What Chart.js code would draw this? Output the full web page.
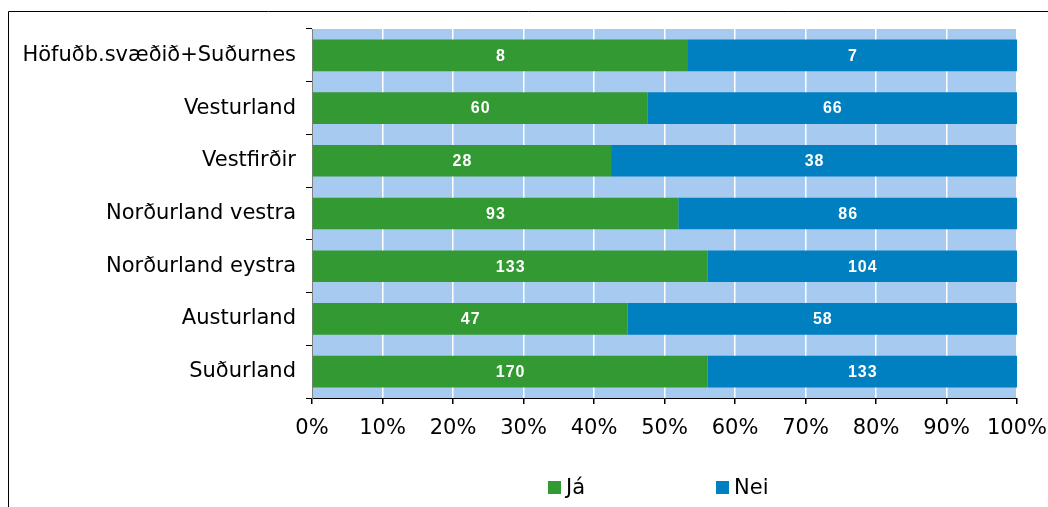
<!DOCTYPE html>
<html>
<head>
<meta charset="utf-8">
<script src="https://cdn.jsdelivr.net/npm/chart.js@4/dist/chart.umd.min.js"></script>
<style>
    body { margin: 0; background: #fff; }
    #wrap { position: relative; width: 1048px; height: 507px; }
</style>
</head>
<body>
<div id="wrap"><canvas id="myBarChart" width="1048" height="507"></canvas></div>
<script>
const regions = ["Höfuðb.svæðið+Suðurnes", "Vesturland", "Vestfirðir", "Norðurland vestra",
    "Norðurland eystra", "Austurland", "Suðurland"];
const jaCounts = [8, 60, 28, 93, 133, 47, 170];
const neiCounts = [7, 66, 38, 86, 104, 58, 133];
const xTicks = [0, 10, 20, 30, 40, 50, 60, 70, 80, 90, 100];

const FONT = "'DejaVu Sans', Verdana, sans-serif";

// 100% stacked: share of each answer per region
const jaShare = jaCounts.map((v, i) => v / (v + neiCounts[i]) * 100);
const neiShare = neiCounts.map((v, i) => v / (jaCounts[i] + v) * 100);

const frame = {
    id: 'frame',
    beforeDraw(chart) {
        const ctx = chart.ctx;
        const a = chart.chartArea;
        ctx.save();
        ctx.strokeStyle = '#000';
        ctx.lineWidth = 1;
        ctx.beginPath();
        ctx.moveTo(8.5, 507);
        ctx.lineTo(8.5, 11.5);
        ctx.lineTo(1048, 11.5);
        ctx.stroke();
        ctx.fillStyle = '#A6CAF0';
        ctx.fillRect(a.left, a.top, a.right - a.left, a.bottom - a.top);
        ctx.restore();
    }
};

const valueLabels = {
    id: 'valueLabels',
    afterDatasetsDraw(chart) {
        const ctx = chart.ctx;
        ctx.save();
        ctx.fillStyle = '#fff';
        ctx.font = "bold 16px 'Liberation Sans', Arial, sans-serif";
        ctx.letterSpacing = '1px';
        ctx.textAlign = 'center';
        ctx.textBaseline = 'middle';
        chart.data.datasets.forEach((ds, di) => {
            chart.getDatasetMeta(di).data.forEach((bar, i) => {
                const x = (bar.x + bar.base) / 2;
                ctx.fillText(String(ds.counts[i]), x + 0.5, bar.y + 1);
            });
        });
        ctx.restore();
    }
};

const legendBoxes = {
    id: 'legendBoxes',
    afterDraw(chart) {
        const ctx = chart.ctx;
        const xs = [548, 716];
        ctx.save();
        ctx.font = '21px ' + FONT;
        ctx.textBaseline = 'middle';
        chart.data.datasets.forEach((ds, di) => {
            ctx.fillStyle = ds.backgroundColor;
            ctx.fillRect(xs[di], 481, 13, 13);
            ctx.fillStyle = '#000';
            ctx.fillText(ds.label, xs[di] + 18, 489);
        });
        ctx.restore();
    }
};

const ctx = document.getElementById('myBarChart').getContext('2d');
const barChart = new Chart(ctx, {
    type: 'bar',
    data: {
        labels: regions,
        datasets: [{
            label: 'Já',
            data: jaShare,
            counts: jaCounts,
            backgroundColor: '#339933',
            barPercentage: 0.6,
            categoryPercentage: 1
        }, {
            label: 'Nei',
            data: neiShare,
            counts: neiCounts,
            backgroundColor: '#0080C0',
            barPercentage: 0.6,
            categoryPercentage: 1
        }]
    },
    options: {
        indexAxis: 'y',
        responsive: false,
        animation: false,
        layout: { padding: { left: 0, top: 29, right: 31, bottom: 59 } },
        plugins: {
            legend: { display: false },
            tooltip: { enabled: false }
        },
        scales: {
            x: {
                stacked: true,
                min: 0,
                max: 100,
                afterBuildTicks: scale => { scale.ticks = xTicks.map(v => ({ value: v })); },
                afterFit: scale => { scale.height = 50; scale.paddingRight = 0; scale.paddingLeft = 0; },
                ticks: {
                    callback: v => v + '%',
                    color: '#000',
                    font: { family: FONT, size: 21 },
                    padding: 12,
                    maxRotation: 0
                },
                grid: {
                    color: '#fff',
                    tickColor: '#000',
                    tickLength: 6,
                    lineWidth: 1.5
                },
                border: { color: '#000', width: 1 }
            },
            y: {
                stacked: true,
                afterFit: scale => { scale.width = 312; },
                ticks: {
                    color: '#000',
                    font: { family: FONT, size: 21 },
                    padding: 10
                },
                grid: {
                    offset: true,
                    drawOnChartArea: false,
                    color: '#000',
                    tickLength: 6
                },
                border: { color: '#808080', width: 1 }
            }
        }
    },
    plugins: [frame, valueLabels, legendBoxes]
});
</script>
</body>
</html>
